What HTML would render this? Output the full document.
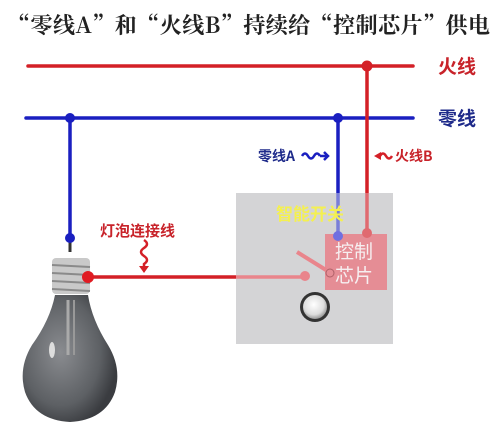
<!DOCTYPE html>
<html><head><meta charset="utf-8"><style>
body{margin:0;width:500px;height:431px;background:#fff;overflow:hidden;font-family:"Liberation Serif","Noto Serif CJK SC",serif}
</style></head><body>
<svg width="500" height="431" viewBox="0 0 500 431" xmlns="http://www.w3.org/2000/svg">
<defs>
<radialGradient id="g" cx="0.4" cy="0.45" r="0.6"><stop offset="0" stop-color="#8a8c90"/><stop offset="0.7" stop-color="#5d6064"/><stop offset="1" stop-color="#3a3c40"/></radialGradient>
<radialGradient id="b" cx="0.45" cy="0.4" r="0.6"><stop offset="0" stop-color="#fff"/><stop offset="0.7" stop-color="#ddd"/><stop offset="1" stop-color="#999"/></radialGradient>
</defs>
<text x="8" y="33" font-size="22" font-weight="bold" fill="#222" textLength="482" lengthAdjust="spacing" font-family="Noto Serif CJK SC,serif">“零线A”和“火线B”持续给“控制芯片”供电</text>
<!-- wires -->
<line x1="28" y1="66" x2="413" y2="66" stroke="#d42027" stroke-width="3.5" stroke-linecap="round"/>
<line x1="26" y1="118" x2="413" y2="118" stroke="#1a1fc0" stroke-width="3.5" stroke-linecap="round"/>
<text x="438" y="73" font-size="19" font-weight="bold" fill="#c8232a" font-family="Noto Sans CJK SC,sans-serif">火线</text>
<text x="438" y="125" font-size="19" font-weight="bold" fill="#1e2a8a" font-family="Noto Sans CJK SC,sans-serif">零线</text>
<line x1="70" y1="118" x2="70" y2="238" stroke="#1a1fc0" stroke-width="3.5"/>
<line x1="338" y1="118" x2="338" y2="195" stroke="#1a1fc0" stroke-width="3.5"/>
<line x1="367" y1="66" x2="367" y2="195" stroke="#d42027" stroke-width="3.5"/>
<circle cx="70" cy="118" r="5" fill="#1a1fc0"/>
<circle cx="338" cy="118" r="5" fill="#1a1fc0"/>
<circle cx="367" cy="66" r="5.5" fill="#d42027"/>
<!-- switch box -->
<rect x="236" y="193" width="157" height="151" fill="#d4d4d6"/>
<line x1="338" y1="193" x2="338" y2="236" stroke="#7a7ed8" stroke-width="3.5"/>
<line x1="367" y1="193" x2="367" y2="233" stroke="#e06a70" stroke-width="3.5"/>
<rect x="325" y="234" width="62" height="56" fill="#e58d95"/>
<circle cx="338" cy="236" r="5" fill="#7070e0"/>
<circle cx="367" cy="233" r="5" fill="#e06a70"/>
<text x="276" y="220" font-size="17" font-weight="bold" fill="#f4f050" font-family="Noto Sans CJK SC,sans-serif">智能开关</text>
<text x="335" y="258" font-size="19" fill="#f6eef0" font-family="Noto Sans CJK SC,sans-serif">控制</text>
<text x="335" y="282" font-size="19" fill="#f6eef0" font-family="Noto Sans CJK SC,sans-serif">芯片</text>
<line x1="88" y1="277" x2="236" y2="277" stroke="#d42027" stroke-width="3.5"/>
<line x1="236" y1="277" x2="305" y2="277" stroke="#e9858c" stroke-width="3.5"/>
<circle cx="305" cy="276" r="5" fill="#e9858c"/>
<line x1="297" y1="252" x2="326" y2="270" stroke="#e9858c" stroke-width="4"/>
<circle cx="330" cy="273" r="4" fill="none" stroke="#b06068" stroke-width="1"/>
<circle cx="315" cy="307" r="15" fill="#333"/>
<circle cx="315" cy="307" r="12" fill="url(#b)"/>
<!-- labels -->
<text x="258" y="161" font-size="14" font-weight="bold" fill="#1e2a8a" font-family="Noto Sans CJK SC,sans-serif">零线A</text>
<path d="M302 156 q3 -5 6 0 t6 0 t6 0" fill="none" stroke="#1a1fc0" stroke-width="2.5"/>
<path d="M320 156 l8 0 m-4 -4 l4 4 l-4 4" fill="none" stroke="#1a1fc0" stroke-width="2.5"/>
<path d="M374 156 l7 -4 l0 8 z" fill="#d42027"/>
<path d="M380 156 q3 -5 6 0 t6 0" fill="none" stroke="#d42027" stroke-width="2.5"/>
<text x="395" y="161" font-size="14" font-weight="bold" fill="#c8232a" font-family="Noto Sans CJK SC,sans-serif">火线B</text>
<text x="100" y="236" font-size="15" font-weight="bold" fill="#c8232a" font-family="Noto Sans CJK SC,sans-serif">灯泡连接线</text>
<path d="M144 240 q6 4 0 8 q-6 4 0 8 q6 4 0 8 l0 4" fill="none" stroke="#d42027" stroke-width="2.5"/>
<path d="M139 266 l5 7 l5 -7 z" fill="#d42027"/>
<!-- bulb -->
<line x1="70" y1="238" x2="70" y2="252" stroke="#333" stroke-width="3"/>
<circle cx="70" cy="238" r="5" fill="#1a1fc0"/>
<rect x="52" y="258" width="38" height="36" rx="4" fill="#c9c9c9"/>
<g stroke="#8a8a8a" stroke-width="2"><line x1="52" y1="265" x2="90" y2="267"/><line x1="52" y1="273" x2="90" y2="275"/><line x1="52" y1="281" x2="90" y2="283"/><line x1="52" y1="289" x2="90" y2="291"/></g>
<path d="M55 295 L88 295 Q92 320 108 345 Q122 368 115 392 Q105 420 70 422 Q35 420 25 392 Q18 368 32 345 Q50 320 55 295 Z" fill="url(#g)"/>
<line x1="68" y1="300" x2="68" y2="355" stroke="#aaa" stroke-width="3"/>
<line x1="74" y1="300" x2="74" y2="355" stroke="#999" stroke-width="2"/>
<ellipse cx="52" cy="350" rx="3" ry="8" fill="#ddd"/>
<circle cx="88" cy="277" r="6" fill="#e01b22"/>
</svg>
</body></html>
